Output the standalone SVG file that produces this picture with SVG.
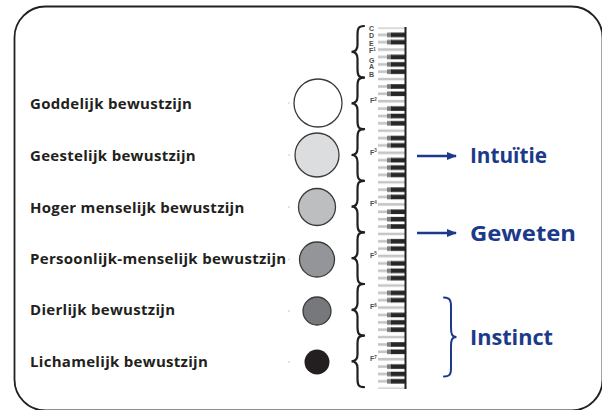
<svg xmlns="http://www.w3.org/2000/svg" width="602" height="410" viewBox="0 0 602 410">
<style>
.lbl{font-family:"Open Sans","Liberation Sans",sans-serif;font-weight:bold;font-size:15px;letter-spacing:0.3px;fill:#231f20}
.blue{font-family:"Open Sans","Liberation Sans",sans-serif;font-weight:bold;font-size:22px;fill:#1b3a8a}
.note{font-family:"Liberation Sans",sans-serif;font-weight:bold;font-size:7px;fill:#4d4d4d}
.sup{font-size:4.5px}
.circ{stroke:#3a3a3a;stroke-width:1.3}
.brace{fill:none;stroke:#231f20;stroke-width:2.2;stroke-linecap:round}
.bbrace{fill:none;stroke:#1b3a8a;stroke-width:2;stroke-linecap:round}
.arrow{stroke:#1b3a8a;stroke-width:2.4;fill:none}
.dot{fill:#b5b5b5}
</style>
<defs>
<marker id="ah" markerWidth="10" markerHeight="8" refX="9" refY="4" orient="auto" markerUnits="userSpaceOnUse">
<path d="M0,0 L10,4 L0,8 Z" fill="#1b3a8a"/>
</marker>
<pattern id="oct" patternUnits="userSpaceOnUse" x="378" y="27.5" width="28" height="51.6">
<rect x="0" y="0" width="28" height="51.6" fill="#fff"/>
<g fill="#c4c4c4">
<rect x="0" y="0" width="28" height="1.2"/>
<rect x="0" y="6.1" width="28" height="2.6"/>
<rect x="0" y="13.4" width="28" height="2.6"/>
<rect x="0" y="20.8" width="28" height="2.6"/>
<rect x="0" y="28.2" width="28" height="2.6"/>
<rect x="0" y="35.6" width="28" height="2.6"/>
<rect x="0" y="42.9" width="28" height="2.6"/>
<rect x="0" y="50.4" width="28" height="1.2"/>
</g>
<g fill="#7d7d7d">
<rect x="9" y="5.1" width="5" height="4.6"/>
<rect x="9" y="12.4" width="5" height="4.6"/>
<rect x="9" y="27.2" width="5" height="4.6"/>
<rect x="9" y="34.6" width="5" height="4.6"/>
<rect x="9" y="41.9" width="5" height="4.6"/>
</g>
<g fill="#262626">
<rect x="13" y="5.1" width="15" height="4.6"/>
<rect x="13" y="12.4" width="15" height="4.6"/>
<rect x="13" y="27.2" width="15" height="4.6"/>
<rect x="13" y="34.6" width="15" height="4.6"/>
<rect x="13" y="41.9" width="15" height="4.6"/>
</g>
</pattern>
<path id="br" d="M364,0 C358,0 357.5,3 357.5,9 L357.5,19 C357.5,23.5 356,25.8 351.5,25.8 C356,25.8 357.5,28.1 357.5,32.6 L357.5,42.6 C357.5,48.6 358,51.6 364,51.6"/>
</defs>

<rect x="14.5" y="6.5" width="588" height="404" rx="31" fill="#fff" stroke="#231f20" stroke-width="1.8"/>

<g id="keyboard">
<rect x="378" y="27.5" width="28" height="361.2" fill="url(#oct)"/>
<line x1="405.5" y1="27" x2="405.5" y2="389" stroke="#231f20" stroke-width="2"/>
<text class="note" x="369" y="31">C</text>
<text class="note" x="369" y="38">D</text>
<text class="note" x="369" y="45.5">E</text>
<text class="note" x="369" y="53">F<tspan class="sup" dy="-2.5">1</tspan></text>
<text class="note" x="369" y="62.5">G</text>
<text class="note" x="369" y="69">A</text>
<text class="note" x="369" y="76.5">B</text>
<text class="note" x="370" y="103">F<tspan class="sup" dy="-2.5">2</tspan></text>
<text class="note" x="370" y="154.6">F<tspan class="sup" dy="-2.5">3</tspan></text>
<text class="note" x="370" y="206.2">F<tspan class="sup" dy="-2.5">4</tspan></text>
<text class="note" x="370" y="257.8">F<tspan class="sup" dy="-2.5">5</tspan></text>
<text class="note" x="370" y="309.4">F<tspan class="sup" dy="-2.5">6</tspan></text>
<text class="note" x="370" y="361">F<tspan class="sup" dy="-2.5">7</tspan></text>
</g>

<g id="braces" class="brace">
<use href="#br" transform="translate(0,26)"/>
<use href="#br" transform="translate(0,77.6)"/>
<use href="#br" transform="translate(0,129.2)"/>
<use href="#br" transform="translate(0,180.8)"/>
<use href="#br" transform="translate(0,232.4)"/>
<use href="#br" transform="translate(0,284)"/>
<use href="#br" transform="translate(0,335.6)"/>
</g>

<g id="goddelijk">
<text class="lbl" x="30" y="109">Goddelijk bewustzijn</text>
<circle class="dot" cx="289" cy="103" r="0.7"/>
<circle class="circ" cx="318" cy="103" r="24" fill="#ffffff"/>
</g>
<g id="geestelijk">
<text class="lbl" x="30" y="161">Geestelijk bewustzijn</text>
<circle class="dot" cx="289" cy="155" r="0.7"/>
<circle class="circ" cx="317" cy="155" r="22" fill="#dcdddf"/>
</g>
<g id="hoger-menselijk">
<text class="lbl" x="30" y="213">Hoger menselijk bewustzijn</text>
<circle class="dot" cx="289" cy="207" r="0.7"/>
<circle class="circ" cx="317" cy="207" r="18.5" fill="#bcbec0"/>
</g>
<g id="persoonlijk-menselijk">
<text class="lbl" x="30" y="264">Persoonlijk-menselijk bewustzijn</text>
<circle class="dot" cx="289" cy="259.5" r="0.7"/>
<circle class="circ" cx="317" cy="259.5" r="17.5" fill="#939598"/>
</g>
<g id="dierlijk">
<text class="lbl" x="30" y="315">Dierlijk bewustzijn</text>
<circle class="dot" cx="289" cy="311" r="0.7"/>
<circle class="circ" cx="317" cy="311" r="14" fill="#77787b"/>
</g>
<g id="lichamelijk">
<text class="lbl" x="30" y="367">Lichamelijk bewustzijn</text>
<circle class="dot" cx="289" cy="362" r="0.7"/>
<circle cx="317" cy="362" r="12.5" fill="#231f20"/>
</g>

<g id="intuitie"><text class="blue" x="470" y="163" textLength="77" lengthAdjust="spacingAndGlyphs">Intuïtie</text></g>
<g id="geweten"><text class="blue" x="470" y="241" textLength="106" lengthAdjust="spacingAndGlyphs">Geweten</text></g>
<g id="instinct">
<text class="blue" x="470" y="345" textLength="83" lengthAdjust="spacingAndGlyphs">Instinct</text>
<path class="bbrace" d="M444,297.5 C450,297.5 451,300.5 451,306.5 L451,328 C451,334 452,337 456.5,337 C452,337 451,340 451,346 L451,368 C451,374 450,376.5 444,376.5"/>
</g>

<g id="connectors">
<line class="arrow" x1="417" y1="156" x2="456" y2="156" marker-end="url(#ah)"/>
<line class="arrow" x1="417" y1="233" x2="456" y2="233" marker-end="url(#ah)"/>
</g>
</svg>
